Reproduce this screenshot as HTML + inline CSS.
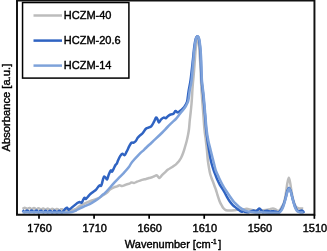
<!DOCTYPE html>
<html><head><meta charset="utf-8"><style>
html,body{margin:0;padding:0;background:#fff;overflow:hidden;}
svg{display:block;will-change:transform;font-family:"Liberation Sans",sans-serif;font-size:11px;}
text{stroke:#000;stroke-width:0.4px;}
</style></head><body>
<svg width="327" height="251" viewBox="0 0 327 251">
<rect x="0" y="0" width="327" height="251" fill="#fff"/>
<g fill="none" stroke-linejoin="round" stroke-linecap="butt">
<path d="M22.50,208.80 C22.68,208.71 23.23,208.47 23.60,208.28 C23.97,208.10 24.33,207.70 24.70,207.69 C25.07,207.68 25.43,208.00 25.80,208.21 C26.17,208.42 26.53,208.88 26.90,208.95 C27.27,209.02 27.63,208.79 28.00,208.62 C28.37,208.44 28.73,207.97 29.10,207.91 C29.47,207.84 29.83,208.03 30.20,208.22 C30.57,208.42 30.93,208.94 31.30,209.06 C31.67,209.17 32.03,209.08 32.40,208.93 C32.77,208.78 33.13,208.28 33.50,208.16 C33.87,208.05 34.23,208.10 34.60,208.26 C34.97,208.42 35.33,208.96 35.70,209.12 C36.07,209.28 36.43,209.34 36.80,209.22 C37.17,209.11 37.53,208.60 37.90,208.45 C38.27,208.31 38.63,208.21 39.00,208.33 C39.37,208.45 39.73,208.97 40.10,209.16 C40.47,209.35 40.83,209.55 41.20,209.48 C41.57,209.41 41.93,208.95 42.30,208.77 C42.67,208.60 43.03,208.37 43.40,208.44 C43.77,208.51 44.13,208.97 44.50,209.18 C44.87,209.39 45.23,209.71 45.60,209.70 C45.97,209.68 46.33,209.29 46.70,209.10 C47.07,208.92 47.43,208.57 47.80,208.59 C48.17,208.60 48.53,208.98 48.90,209.19 C49.27,209.40 49.63,209.83 50.00,209.87 C50.37,209.91 50.73,209.62 51.10,209.44 C51.47,209.26 51.83,208.82 52.20,208.78 C52.57,208.74 52.93,209.00 53.30,209.20 C53.67,209.40 54.03,209.90 54.40,210.00 C54.77,210.09 55.13,209.93 55.50,209.76 C55.87,209.60 56.23,209.11 56.60,209.02 C56.97,208.93 57.33,209.05 57.70,209.23 C58.07,209.40 58.43,209.94 58.80,210.08 C59.17,210.22 59.53,210.20 59.90,210.07 C60.27,209.94 60.63,209.42 61.00,209.29 C61.37,209.16 61.73,209.14 62.10,209.28 C62.47,209.42 62.55,209.98 63.20,210.13 C63.85,210.29 65.20,210.09 66.00,210.20 C66.80,210.31 67.05,210.77 68.00,210.80 C68.95,210.83 70.47,210.67 71.70,210.40 C72.93,210.13 74.02,209.95 75.40,209.20 C76.78,208.45 78.23,206.95 80.00,205.90 C81.77,204.85 84.02,203.80 86.00,202.90 C87.98,202.00 89.92,201.23 91.90,200.50 C93.88,199.77 96.10,199.33 97.90,198.50 C99.70,197.67 101.15,196.50 102.70,195.50 C104.25,194.50 105.98,193.48 107.20,192.50 C108.42,191.52 108.87,190.47 110.00,189.60 C111.13,188.73 112.83,187.83 114.00,187.30 C115.17,186.77 116.08,186.75 117.00,186.40 C117.92,186.05 118.67,185.27 119.50,185.20 C120.33,185.13 121.08,186.03 122.00,186.00 C122.92,185.97 124.17,185.30 125.00,185.00 C125.83,184.70 126.27,184.42 127.00,184.20 C127.73,183.98 128.67,184.00 129.40,183.70 C130.13,183.40 130.63,182.52 131.40,182.40 C132.17,182.28 133.07,183.12 134.00,183.00 C134.93,182.88 136.00,182.10 137.00,181.70 C138.00,181.30 139.00,180.95 140.00,180.60 C141.00,180.25 142.00,179.87 143.00,179.60 C144.00,179.33 145.00,179.27 146.00,179.00 C147.00,178.73 148.00,178.28 149.00,178.00 C150.00,177.72 151.08,177.60 152.00,177.30 C152.92,177.00 153.77,176.55 154.50,176.20 C155.23,175.85 155.85,175.18 156.40,175.20 C156.95,175.22 157.33,175.83 157.80,176.30 C158.27,176.77 158.73,177.92 159.20,178.00 C159.67,178.08 160.13,177.27 160.60,176.80 C161.07,176.33 161.27,175.95 162.00,175.20 C162.73,174.45 164.00,173.23 165.00,172.30 C166.00,171.37 167.00,170.35 168.00,169.60 C169.00,168.85 170.00,168.43 171.00,167.80 C172.00,167.17 173.08,166.47 174.00,165.80 C174.92,165.13 175.77,164.47 176.50,163.80 C177.23,163.13 177.65,162.77 178.40,161.80 C179.15,160.83 180.20,159.50 181.00,158.00 C181.80,156.50 182.53,154.63 183.20,152.80 C183.87,150.97 184.42,148.97 185.00,147.00 C185.58,145.03 186.20,143.00 186.70,141.00 C187.20,139.00 187.62,137.00 188.00,135.00 C188.38,133.00 188.70,131.50 189.00,129.00 C189.30,126.50 189.52,122.83 189.80,120.00 C190.08,117.17 190.42,114.67 190.70,112.00 C190.98,109.33 191.28,106.50 191.50,104.00 C191.72,101.50 191.85,99.33 192.00,97.00 C192.15,94.67 192.23,92.50 192.40,90.00 C192.57,87.50 192.80,84.33 193.00,82.00 C193.20,79.67 193.35,78.83 193.60,76.00 C193.85,73.17 194.23,68.50 194.50,65.00 C194.77,61.50 194.98,58.00 195.20,55.00 C195.42,52.00 195.60,49.33 195.80,47.00 C196.00,44.67 196.13,42.73 196.40,41.00 C196.67,39.27 197.07,36.60 197.40,36.60 C197.73,36.60 198.12,39.27 198.40,41.00 C198.68,42.73 198.88,44.67 199.10,47.00 C199.32,49.33 199.45,51.17 199.70,55.00 C199.95,58.83 200.30,64.17 200.60,70.00 C200.90,75.83 201.10,83.33 201.50,90.00 C201.90,96.67 202.50,103.33 203.00,110.00 C203.50,116.67 204.03,125.00 204.50,130.00 C204.97,135.00 205.40,136.67 205.80,140.00 C206.20,143.33 206.57,146.67 206.90,150.00 C207.23,153.33 207.45,157.00 207.80,160.00 C208.15,163.00 208.60,165.67 209.00,168.00 C209.40,170.33 209.78,172.33 210.20,174.00 C210.62,175.67 211.02,176.67 211.50,178.00 C211.98,179.33 212.60,180.67 213.10,182.00 C213.60,183.33 214.02,184.67 214.50,186.00 C214.98,187.33 215.50,188.50 216.00,190.00 C216.50,191.50 216.85,193.00 217.50,195.00 C218.15,197.00 219.23,200.33 219.90,202.00 C220.57,203.67 220.90,203.95 221.50,205.00 C222.10,206.05 222.75,207.43 223.50,208.30 C224.25,209.17 224.92,209.82 226.00,210.20 C227.08,210.58 228.50,210.60 230.00,210.60 C231.50,210.60 233.33,210.38 235.00,210.20 C236.67,210.02 238.47,209.67 240.00,209.50 C241.53,209.33 243.05,209.32 244.20,209.20 C245.35,209.08 245.98,208.77 246.90,208.80 C247.82,208.83 248.63,209.17 249.70,209.40 C250.77,209.63 251.92,210.07 253.30,210.20 C254.68,210.33 256.38,210.18 258.00,210.20 C259.62,210.22 261.20,210.40 263.00,210.30 C264.80,210.20 267.17,209.92 268.80,209.60 C270.43,209.28 271.60,208.40 272.80,208.40 C274.00,208.40 275.13,209.17 276.00,209.60 C276.87,210.03 277.33,210.97 278.00,211.00 C278.67,211.03 279.33,210.55 280.00,209.80 C280.67,209.05 281.40,207.53 282.00,206.50 C282.60,205.47 283.10,204.93 283.60,203.60 C284.10,202.27 284.58,200.43 285.00,198.50 C285.42,196.57 285.72,194.50 286.10,192.00 C286.48,189.50 286.85,185.87 287.30,183.50 C287.75,181.13 288.30,177.80 288.80,177.80 C289.30,177.80 289.83,181.13 290.30,183.50 C290.77,185.87 291.17,189.50 291.60,192.00 C292.03,194.50 292.42,196.57 292.90,198.50 C293.38,200.43 293.93,202.18 294.50,203.60 C295.07,205.02 295.63,206.22 296.30,207.00 C296.97,207.78 297.80,208.07 298.50,208.30 C299.20,208.53 299.72,208.35 300.50,208.40 C301.28,208.45 302.75,208.57 303.20,208.60" stroke="#bcbcbc" stroke-width="2.5"/>
<path d="M22.50,210.35 C22.68,210.48 23.23,210.87 23.60,211.16 C23.97,211.44 24.33,212.03 24.70,212.07 C25.07,212.11 25.43,211.69 25.80,211.41 C26.17,211.14 26.53,210.51 26.90,210.44 C27.27,210.36 27.63,210.71 28.00,210.98 C28.37,211.25 28.73,211.94 29.10,212.06 C29.47,212.18 29.83,211.93 30.20,211.68 C30.57,211.44 30.93,210.72 31.30,210.58 C31.67,210.44 32.03,210.60 32.40,210.83 C32.77,211.07 33.13,211.81 33.50,211.99 C33.87,212.18 34.23,212.13 34.60,211.93 C34.97,211.73 35.33,210.98 35.70,210.78 C36.07,210.58 36.43,210.53 36.80,210.72 C37.17,210.90 37.53,211.64 37.90,211.88 C38.27,212.11 38.63,212.27 39.00,212.13 C39.37,211.99 39.73,211.27 40.10,211.02 C40.47,210.78 40.83,210.53 41.20,210.65 C41.57,210.77 41.93,211.46 42.30,211.73 C42.67,212.00 43.03,212.35 43.40,212.27 C43.77,212.20 44.13,211.57 44.50,211.30 C44.87,211.02 45.23,210.60 45.60,210.64 C45.97,210.68 46.33,211.27 46.70,211.55 C47.07,211.84 47.43,212.35 47.80,212.36 C48.17,212.36 48.53,211.86 48.90,211.58 C49.27,211.30 49.63,210.73 50.00,210.69 C50.37,210.66 50.73,211.09 51.10,211.38 C51.47,211.66 51.83,212.30 52.20,212.38 C52.57,212.46 52.93,212.12 53.30,211.86 C53.67,211.60 54.03,210.92 54.40,210.81 C54.77,210.70 55.13,210.96 55.50,211.21 C55.87,211.47 56.23,212.19 56.60,212.34 C56.97,212.49 57.33,212.35 57.70,212.12 C58.07,211.89 58.43,211.16 58.80,210.98 C59.17,210.81 59.53,210.86 59.90,211.08 C60.27,211.29 60.63,212.04 61.00,212.25 C61.37,212.46 61.73,212.52 62.10,212.34 C62.47,212.17 62.98,211.43 63.20,211.21 C63.42,210.98 63.05,211.40 63.40,211.00 C63.75,210.60 64.68,209.33 65.30,208.80 C65.92,208.27 66.57,207.65 67.10,207.80 C67.63,207.95 67.97,209.53 68.50,209.70 C69.03,209.87 69.62,209.27 70.30,208.80 C70.98,208.33 71.75,207.60 72.60,206.90 C73.45,206.20 74.67,205.20 75.40,204.60 C76.13,204.00 76.33,203.72 77.00,203.30 C77.67,202.88 78.60,202.23 79.40,202.10 C80.20,201.97 81.00,203.20 81.80,202.50 C82.60,201.80 83.50,198.50 84.20,197.90 C84.90,197.30 85.12,199.40 86.00,198.90 C86.88,198.40 88.32,196.07 89.50,194.90 C90.68,193.73 92.00,192.78 93.10,191.90 C94.20,191.02 95.30,190.38 96.10,189.60 C96.90,188.82 97.30,187.90 97.90,187.20 C98.50,186.50 99.20,185.60 99.70,185.40 C100.20,185.20 100.55,186.22 100.90,186.00 C101.25,185.78 101.45,185.22 101.80,184.10 C102.15,182.98 102.60,180.58 103.00,179.30 C103.40,178.02 103.70,176.60 104.20,176.40 C104.70,176.20 105.50,177.62 106.00,178.10 C106.50,178.58 106.70,179.98 107.20,179.30 C107.70,178.62 108.40,175.48 109.00,174.00 C109.60,172.52 110.30,170.80 110.80,170.40 C111.30,170.00 111.52,171.90 112.00,171.60 C112.48,171.30 113.12,169.70 113.70,168.60 C114.28,167.50 114.98,165.83 115.50,165.00 C116.02,164.17 116.35,164.42 116.80,163.60 C117.25,162.78 117.62,161.38 118.20,160.10 C118.78,158.82 119.60,156.95 120.30,155.90 C121.00,154.85 121.70,153.92 122.40,153.80 C123.10,153.68 123.80,155.55 124.50,155.20 C125.20,154.85 125.80,153.20 126.60,151.70 C127.40,150.20 128.50,147.70 129.30,146.20 C130.10,144.70 130.70,143.28 131.40,142.70 C132.10,142.12 132.80,142.93 133.50,142.70 C134.20,142.47 134.90,142.12 135.60,141.30 C136.30,140.48 137.00,138.73 137.70,137.80 C138.40,136.87 138.95,136.50 139.80,135.70 C140.65,134.90 141.83,134.12 142.80,133.00 C143.77,131.88 144.67,129.90 145.60,129.00 C146.53,128.10 147.47,128.03 148.40,127.60 C149.33,127.17 150.27,127.38 151.20,126.40 C152.13,125.42 153.20,123.17 154.00,121.70 C154.80,120.23 155.43,118.05 156.00,117.60 C156.57,117.15 156.93,118.20 157.40,119.00 C157.87,119.80 158.22,122.30 158.80,122.40 C159.38,122.50 160.08,120.40 160.90,119.60 C161.72,118.80 162.88,117.83 163.70,117.60 C164.52,117.37 165.10,118.43 165.80,118.20 C166.50,117.97 167.10,116.82 167.90,116.20 C168.70,115.58 169.68,114.90 170.60,114.50 C171.52,114.10 172.58,114.38 173.40,113.80 C174.22,113.22 174.80,111.23 175.50,111.00 C176.20,110.77 177.02,112.28 177.60,112.40 C178.18,112.52 178.32,112.17 179.00,111.70 C179.68,111.23 180.90,110.28 181.70,109.60 C182.50,108.92 183.22,108.28 183.80,107.60 C184.38,106.92 184.78,106.18 185.20,105.50 C185.62,104.82 185.98,104.17 186.30,103.50 C186.62,102.83 186.87,102.42 187.10,101.50 C187.33,100.58 187.42,99.92 187.70,98.00 C187.98,96.08 188.32,93.00 188.80,90.00 C189.28,87.00 189.92,85.00 190.60,80.00 C191.28,75.00 192.38,64.67 192.90,60.00 C193.42,55.33 193.45,54.33 193.70,52.00 C193.95,49.67 194.13,47.92 194.40,46.00 C194.67,44.08 194.98,41.95 195.30,40.50 C195.62,39.05 195.95,38.00 196.30,37.30 C196.65,36.60 197.05,36.30 197.40,36.30 C197.75,36.30 198.10,36.60 198.40,37.30 C198.70,38.00 198.95,39.05 199.20,40.50 C199.45,41.95 199.70,44.08 199.90,46.00 C200.10,47.92 200.25,49.67 200.40,52.00 C200.55,54.33 200.60,55.33 200.80,60.00 C201.00,64.67 201.20,74.17 201.60,80.00 C202.00,85.83 202.63,89.17 203.20,95.00 C203.77,100.83 204.50,109.17 205.00,115.00 C205.50,120.83 205.77,125.67 206.20,130.00 C206.63,134.33 207.13,137.67 207.60,141.00 C208.07,144.33 208.55,147.17 209.00,150.00 C209.45,152.83 209.80,155.50 210.30,158.00 C210.80,160.50 211.45,163.00 212.00,165.00 C212.55,167.00 213.02,168.33 213.60,170.00 C214.18,171.67 214.85,173.33 215.50,175.00 C216.15,176.67 216.75,178.33 217.50,180.00 C218.25,181.67 219.03,183.33 220.00,185.00 C220.97,186.67 222.22,188.17 223.30,190.00 C224.38,191.83 225.42,194.08 226.50,196.00 C227.58,197.92 228.72,199.95 229.80,201.50 C230.88,203.05 232.03,204.32 233.00,205.30 C233.97,206.28 234.70,206.67 235.60,207.40 C236.50,208.13 237.62,209.08 238.40,209.70 C239.18,210.32 239.73,210.77 240.30,211.10 C240.87,211.43 241.32,211.67 241.80,211.70 C242.28,211.73 242.65,211.25 243.20,211.30 C243.75,211.35 244.60,211.87 245.10,212.00 C245.60,212.13 245.65,212.05 246.20,212.10 C246.75,212.15 247.53,212.45 248.40,212.30 C249.27,212.15 250.53,211.50 251.40,211.20 C252.27,210.90 252.87,210.47 253.60,210.50 C254.33,210.53 255.13,211.48 255.80,211.40 C256.47,211.32 257.00,210.48 257.60,210.00 C258.20,209.52 258.78,208.45 259.40,208.50 C260.02,208.55 260.73,209.67 261.30,210.30 C261.87,210.93 262.25,212.13 262.80,212.30 C263.35,212.47 263.87,211.55 264.60,211.30 C265.33,211.05 266.23,210.77 267.20,210.80 C268.17,210.83 269.33,211.43 270.40,211.50 C271.47,211.57 272.53,211.12 273.60,211.20 C274.67,211.28 276.00,211.78 276.80,212.00 C277.60,212.22 277.87,212.67 278.40,212.50 C278.93,212.33 279.43,211.65 280.00,211.00 C280.57,210.35 281.23,209.60 281.80,208.60 C282.37,207.60 282.88,206.35 283.40,205.00 C283.92,203.65 284.43,202.08 284.90,200.50 C285.37,198.92 285.77,197.17 286.20,195.50 C286.63,193.83 287.03,191.80 287.50,190.50 C287.97,189.20 288.50,187.70 289.00,187.70 C289.50,187.70 290.03,189.20 290.50,190.50 C290.97,191.80 291.37,193.83 291.80,195.50 C292.23,197.17 292.65,198.92 293.10,200.50 C293.55,202.08 294.02,203.67 294.50,205.00 C294.98,206.33 295.48,207.53 296.00,208.50 C296.52,209.47 297.07,210.33 297.60,210.80 C298.13,211.27 298.57,211.33 299.20,211.30 C299.83,211.27 300.73,210.57 301.40,210.60 C302.07,210.63 302.78,211.10 303.20,211.50 C303.62,211.90 303.78,212.75 303.90,213.00" stroke="#2f63c2" stroke-width="2.5"/>
<path d="M22.50,212.30 C25.42,212.30 34.58,212.28 40.00,212.30 C45.42,212.32 50.67,212.38 55.00,212.40 C59.33,212.42 63.17,212.45 66.00,212.40 C68.83,212.35 70.33,212.42 72.00,212.10 C73.67,211.78 74.67,211.13 76.00,210.50 C77.33,209.87 78.33,209.10 80.00,208.30 C81.67,207.50 84.02,206.62 86.00,205.70 C87.98,204.78 89.92,203.90 91.90,202.80 C93.88,201.70 96.10,200.43 97.90,199.10 C99.70,197.77 101.55,195.78 102.70,194.80 C103.85,193.82 103.65,194.33 104.80,193.20 C105.95,192.07 108.02,189.75 109.60,188.00 C111.18,186.25 112.72,184.42 114.30,182.70 C115.88,180.98 117.50,179.35 119.10,177.70 C120.70,176.05 122.30,174.53 123.90,172.80 C125.50,171.07 127.33,169.10 128.70,167.30 C130.07,165.50 130.37,164.17 132.10,162.00 C133.83,159.83 137.12,156.33 139.10,154.30 C141.08,152.27 142.35,151.35 144.00,149.80 C145.65,148.25 147.12,146.77 149.00,145.00 C150.88,143.23 153.08,141.28 155.30,139.20 C157.52,137.12 160.27,134.53 162.30,132.50 C164.33,130.47 165.88,128.65 167.50,127.00 C169.12,125.35 170.55,124.00 172.00,122.60 C173.45,121.20 174.80,120.17 176.20,118.60 C177.60,117.03 179.07,114.87 180.40,113.20 C181.73,111.53 183.27,109.83 184.20,108.60 C185.13,107.37 185.48,106.70 186.00,105.80 C186.52,104.90 186.93,104.00 187.30,103.20 C187.67,102.40 187.93,102.03 188.20,101.00 C188.47,99.97 188.63,98.83 188.90,97.00 C189.17,95.17 189.35,92.83 189.80,90.00 C190.25,87.17 191.00,85.00 191.60,80.00 C192.20,75.00 192.98,64.67 193.40,60.00 C193.82,55.33 193.87,54.33 194.10,52.00 C194.33,49.67 194.55,47.92 194.80,46.00 C195.05,44.08 195.32,41.95 195.60,40.50 C195.88,39.05 196.18,38.00 196.50,37.30 C196.82,36.60 197.15,36.30 197.50,36.30 C197.85,36.30 198.27,36.60 198.60,37.30 C198.93,38.00 199.23,39.05 199.50,40.50 C199.77,41.95 200.00,44.08 200.20,46.00 C200.40,47.92 200.53,49.67 200.70,52.00 C200.87,54.33 201.00,55.33 201.20,60.00 C201.40,64.67 201.50,74.17 201.90,80.00 C202.30,85.83 203.03,89.17 203.60,95.00 C204.17,100.83 204.80,109.17 205.30,115.00 C205.80,120.83 206.08,125.67 206.60,130.00 C207.12,134.33 207.73,137.67 208.40,141.00 C209.07,144.33 209.90,147.17 210.60,150.00 C211.30,152.83 212.02,155.67 212.60,158.00 C213.18,160.33 213.60,162.00 214.10,164.00 C214.60,166.00 215.07,168.33 215.60,170.00 C216.13,171.67 216.72,172.67 217.30,174.00 C217.88,175.33 218.30,176.33 219.10,178.00 C219.90,179.67 221.02,182.00 222.10,184.00 C223.18,186.00 224.28,187.92 225.60,190.00 C226.92,192.08 228.63,194.53 230.00,196.50 C231.37,198.47 232.72,200.50 233.80,201.80 C234.88,203.10 235.42,203.30 236.50,204.30 C237.58,205.30 238.87,206.75 240.30,207.80 C241.73,208.85 243.53,209.93 245.10,210.60 C246.67,211.27 248.33,211.52 249.70,211.80 C251.07,212.08 251.92,212.18 253.30,212.30 C254.68,212.42 256.62,212.52 258.00,212.50 C259.38,212.48 260.60,212.18 261.60,212.20 C262.60,212.22 262.60,212.52 264.00,212.60 C265.40,212.68 268.00,212.68 270.00,212.70 C272.00,212.72 274.50,212.68 276.00,212.70 C277.50,212.72 278.12,213.15 279.00,212.80 C279.88,212.45 280.62,211.57 281.30,210.60 C281.98,209.63 282.53,208.43 283.10,207.00 C283.67,205.57 284.18,203.75 284.70,202.00 C285.22,200.25 285.72,198.30 286.20,196.50 C286.68,194.70 287.12,192.57 287.60,191.20 C288.08,189.83 288.60,188.30 289.10,188.30 C289.60,188.30 290.12,189.83 290.60,191.20 C291.08,192.57 291.53,194.70 292.00,196.50 C292.47,198.30 292.92,200.25 293.40,202.00 C293.88,203.75 294.37,205.58 294.90,207.00 C295.43,208.42 296.00,209.67 296.60,210.50 C297.20,211.33 297.93,211.68 298.50,212.00 C299.07,212.32 299.17,212.30 300.00,212.40 C300.83,212.50 302.92,212.57 303.50,212.60" stroke="#7ea2da" stroke-width="2.5"/>
</g>
<path d="M17,0.45 V214.8 H314.45 V0.45 Z" fill="none" stroke="#111" stroke-width="1.95"/>
<line x1="39.00" y1="214.5" x2="39.00" y2="218.8" stroke="#000" stroke-width="1.7"/><line x1="94.07" y1="214.5" x2="94.07" y2="218.8" stroke="#000" stroke-width="1.7"/><line x1="149.15" y1="214.5" x2="149.15" y2="218.8" stroke="#000" stroke-width="1.7"/><line x1="204.22" y1="214.5" x2="204.22" y2="218.8" stroke="#000" stroke-width="1.7"/><line x1="259.30" y1="214.5" x2="259.30" y2="218.8" stroke="#000" stroke-width="1.7"/><line x1="314.38" y1="214.5" x2="314.38" y2="218.8" stroke="#000" stroke-width="1.7"/>
<g fill="#000"><text x="39.60" y="232.4" text-anchor="middle">1760</text><text x="94.67" y="232.4" text-anchor="middle">1710</text><text x="149.75" y="232.4" text-anchor="middle">1660</text><text x="204.82" y="232.4" text-anchor="middle">1610</text><text x="259.90" y="232.4" text-anchor="middle">1560</text><text x="314.98" y="232.4" text-anchor="middle">1510</text></g>
<text x="124.8" y="247.7" fill="#000">Wavenumber [cm<tspan font-size="6.6" dy="-3.9" dx="0.3">-1</tspan><tspan dy="3.9" dx="1.4">]</tspan></text>
<text transform="translate(10,107.6) rotate(-90)" text-anchor="middle" fill="#000" font-size="11.2">Absorbance [a.u.]</text>
<rect x="22.55" y="2.55" width="106.35" height="75.55" fill="#fff" stroke="#000" stroke-width="1.5"/>
<g stroke-width="2.5" stroke-linecap="butt">
<line x1="33.5" y1="15.5" x2="62" y2="15.5" stroke="#bcbcbc"/>
<line x1="33.5" y1="40.6" x2="62" y2="40.6" stroke="#2f63c2"/>
<line x1="33.5" y1="65.6" x2="62" y2="65.6" stroke="#7ea2da"/>
</g>
<g fill="#000">
<text x="63.8" y="19.3">HCZM-40</text>
<text x="63.8" y="44.4">HCZM-20.6</text>
<text x="63.8" y="69.2">HCZM-14</text>
</g>
</svg>
</body></html>
